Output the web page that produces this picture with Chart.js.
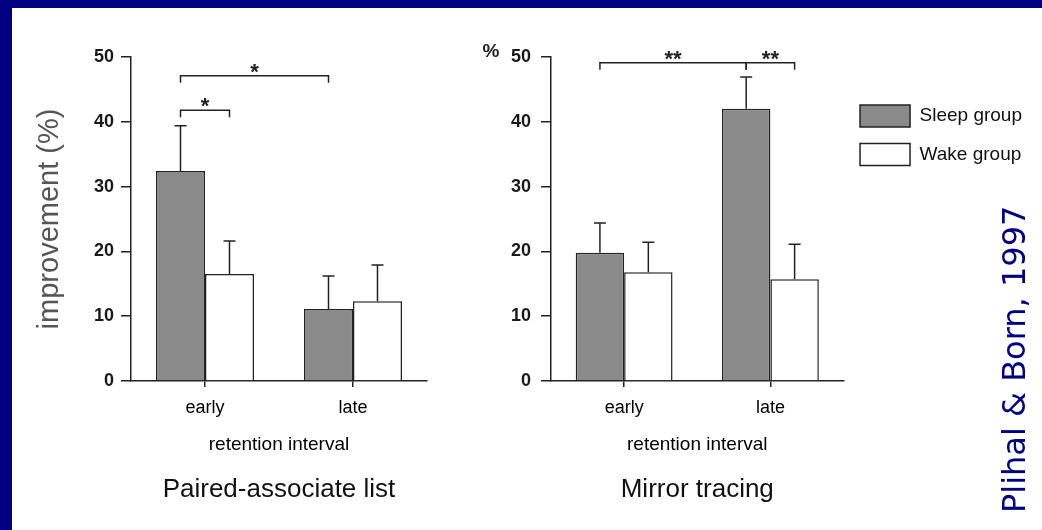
<!DOCTYPE html>
<html>
<head>
<meta charset="utf-8">
<script src="https://cdn.jsdelivr.net/npm/chart.js@4/dist/chart.umd.min.js"></script>
<style>
  html, body { margin: 0; padding: 0; }
  body { width: 1042px; height: 530px; background: #000080; position: relative; overflow: hidden; }
  #panel { position: absolute; left: 12px; top: 8px; width: 1030px; height: 522px; background: #fff; }
  canvas { position: absolute; top: 8px; }
  #paired { left: 12px; }
  #mirror { left: 240px; }
  #credit {
    position: absolute; left: 998px; top: 513px;
    font: 32px "DejaVu Sans", Verdana, sans-serif; line-height: 1;
    color: #000080; white-space: nowrap;
    transform-origin: 0 0; transform: rotate(-90deg);
  }
</style>
</head>
<body>
<div id="panel"></div>
<canvas id="paired" width="518" height="522"></canvas>
<canvas id="mirror" width="802" height="522"></canvas>
<div id="credit">Plihal &amp; Born, 1997</div>
<script>
const intervals = ['early', 'late'];

// Paired-associate list
const pairedSleep = [32.4, 11.1];
const pairedSleepErr = [7.0, 5.1];
const pairedWake = [16.5, 12.3];
const pairedWakeErr = [5.1, 5.6];

// Mirror tracing
const mirrorSleep = [19.8, 42.0];
const mirrorSleepErr = [4.6, 4.9];
const mirrorWake = [16.8, 15.7];
const mirrorWakeErr = [4.6, 5.4];

// significance brackets: [category, dataset] of both ends, height in %
const pairedBrackets = [
  { a: [0, 0], b: [1, 0], at: 47.1, label: '*' },
  { a: [0, 0], b: [0, 1], at: 41.8, label: '*' }
];
const mirrorBrackets = [
  { a: [0, 0], b: [1, 0], at: 49.1, label: '**' },
  { a: [1, 0], b: [1, 1], at: 49.1, label: '**' }
];

const FONT = '"Liberation Sans", Arial, sans-serif';
const INK = '#222';
Chart.defaults.font.family = FONT;
Chart.defaults.color = '#111';

// one-sided error bars, brackets with stars, optional unit label
const groupMarks = {
  id: 'groupMarks',
  afterDatasetsDraw(chart, args, opts) {
    const ctx = chart.ctx;
    const y = chart.scales.y;
    ctx.save();
    ctx.strokeStyle = INK;
    ctx.lineWidth = 1.5;
    chart.data.datasets.forEach((ds, i) => {
      chart.getDatasetMeta(i).data.forEach((bar, j) => {
        const top = y.getPixelForValue(ds.data[j] + ds.errors[j]);
        ctx.beginPath();
        ctx.moveTo(bar.x, bar.y);
        ctx.lineTo(bar.x, top);
        ctx.moveTo(bar.x - 6, top);
        ctx.lineTo(bar.x + 6, top);
        ctx.stroke();
      });
    });

    ctx.fillStyle = INK;
    ctx.textAlign = 'center';
    ctx.textBaseline = 'alphabetic';
    ctx.font = 'bold 22px ' + FONT;
    (opts.brackets || []).forEach(br => {
      const xa = chart.getDatasetMeta(br.a[1]).data[br.a[0]].x;
      const xb = chart.getDatasetMeta(br.b[1]).data[br.b[0]].x;
      const yl = y.getPixelForValue(br.at);
      ctx.beginPath();
      ctx.moveTo(xa, yl + 7);
      ctx.lineTo(xa, yl);
      ctx.lineTo(xb, yl);
      ctx.lineTo(xb, yl + 7);
      ctx.stroke();
      ctx.fillText(br.label, (xa + xb) / 2, yl - 10 + 22 * 0.58);
    });

    if (opts.unit) {
      ctx.font = 'bold 19px ' + FONT;
      ctx.textBaseline = 'middle';
      ctx.fillText(opts.unit, chart.chartArea.left - 60, y.getPixelForValue(50) - 5);
    }
    ctx.restore();
  }
};

function barData(sleep, sleepErr, wake, wakeErr) {
  return {
    labels: intervals,
    datasets: [
      { label: 'Sleep group', data: sleep, errors: sleepErr,
        backgroundColor: '#8a8a8a', borderColor: INK, borderWidth: 1.5,
        barPercentage: 1, categoryPercentage: 0.662 },
      { label: 'Wake group', data: wake, errors: wakeErr,
        backgroundColor: '#ffffff', borderColor: INK, borderWidth: 1.5,
        barPercentage: 1, categoryPercentage: 0.662 }
    ]
  };
}

function yAxis(width, pad, title) {
  return {
    min: 0, max: 50,
    ticks: { stepSize: 10, padding: pad, color: '#1a1a1a', font: { size: 18, weight: 'bold' } },
    grid: { drawOnChartArea: false, tickLength: 10, color: INK, lineWidth: 1.5 },
    border: { color: INK, width: 1.5 },
    title: title ? { display: true, text: title, color: '#555', font: { size: 29 }, padding: { top: 21 } }
                 : { display: false },
    afterFit(scale) { scale.width = width; }
  };
}

const xAxis = {
  ticks: { padding: 10, color: '#000', font: { size: 18 } },
  grid: { drawOnChartArea: false, offset: false, tickLength: 6, color: INK, lineWidth: 1.5 },
  border: { color: INK, width: 1.5 },
  title: { display: true, text: 'retention interval', color: '#000', font: { size: 19 }, padding: { bottom: 8 } },
  afterFit(scale) { scale.height = 83.4; }
};

const titleFont = { size: 26, weight: 'normal' };

const pairedChart = new Chart(document.getElementById('paired'), {
  type: 'bar',
  data: barData(pairedSleep, pairedSleepErr, pairedWake, pairedWakeErr),
  options: {
    responsive: false,
    animation: false,
    layout: { padding: { top: 49, right: 103, bottom: 0, left: 0 } },
    scales: { x: xAxis, y: yAxis(119, 7, 'improvement (%)') },
    plugins: {
      legend: { display: false },
      tooltip: { enabled: false },
      title: { display: true, text: 'Paired-associate list', position: 'bottom', fullSize: false,
               color: '#111', font: titleFont, padding: { top: 10, bottom: 24.4 } },
      groupMarks: { brackets: pairedBrackets }
    }
  },
  plugins: [groupMarks]
});

const mirrorChart = new Chart(document.getElementById('mirror'), {
  type: 'bar',
  data: barData(mirrorSleep, mirrorSleepErr, mirrorWake, mirrorWakeErr),
  options: {
    responsive: false,
    animation: false,
    layout: { padding: { top: 49, right: 10, bottom: 0, left: 0 } },
    scales: { x: xAxis, y: yAxis(311, 10, null) },
    plugins: {
      legend: {
        position: 'right', align: 'start',
        labels: { boxWidth: 50, boxHeight: 22, padding: 16.5, color: '#111', font: { size: 19 } },
        // blank title only pushes the entries down
        title: { display: true, text: ' ', font: { size: 10 }, padding: { top: 19.5, bottom: 0 } }
      },
      tooltip: { enabled: false },
      title: { display: true, text: 'Mirror tracing', position: 'bottom', fullSize: false,
               color: '#111', font: titleFont, padding: { top: 10, bottom: 24.4 } },
      groupMarks: { brackets: mirrorBrackets, unit: '%' }
    }
  },
  plugins: [groupMarks]
});
</script>
</body>
</html>
